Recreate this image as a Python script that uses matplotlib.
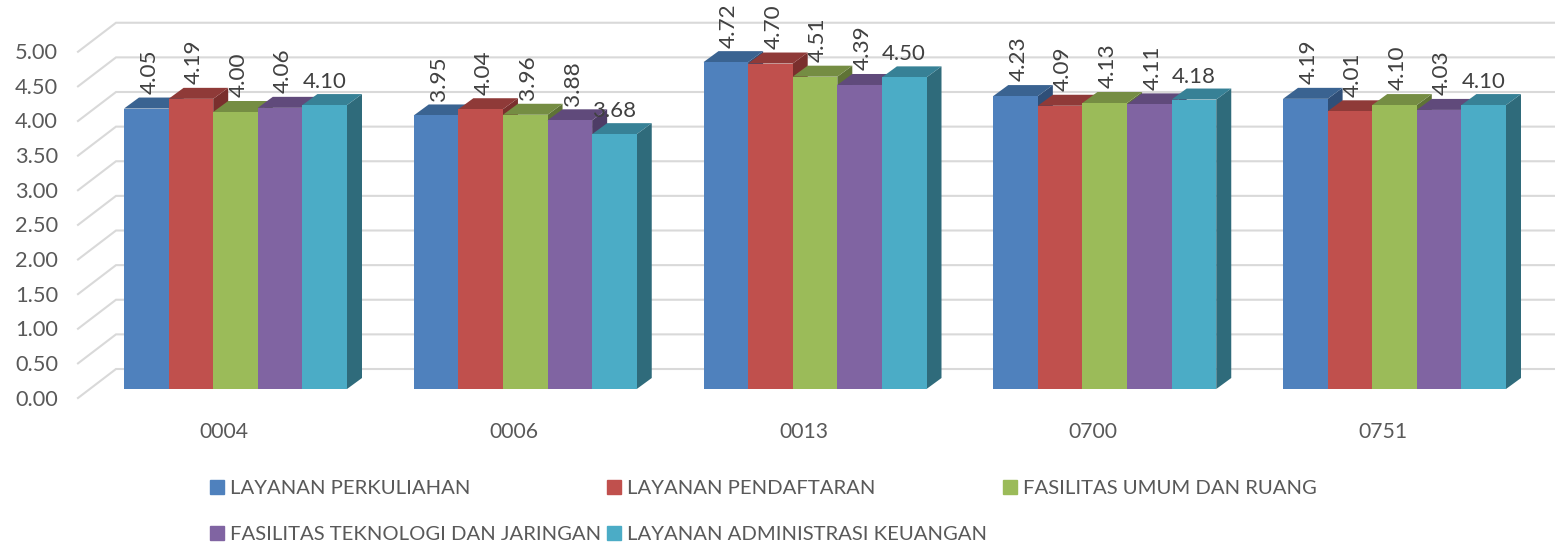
import matplotlib
matplotlib.use('Agg')
import matplotlib.pyplot as plt
from matplotlib.patches import Rectangle

plt.rcParams['font.family'] = ['Lato', 'DejaVu Sans']

categories = ['0004', '0006', '0013', '0700', '0751']
series_names = ['LAYANAN PERKULIAHAN', 'LAYANAN PENDAFTARAN', 'FASILITAS UMUM DAN RUANG',
                'FASILITAS TEKNOLOGI DAN JARINGAN', 'LAYANAN ADMINISTRASI KEUANGAN']
perkuliahan = [4.05, 3.95, 4.72, 4.23, 4.19]
pendaftaran = [4.19, 4.04, 4.70, 4.09, 4.01]
fasilitas_umum = [4.00, 3.96, 4.51, 4.13, 4.10]
fasilitas_tekno = [4.06, 3.88, 4.39, 4.11, 4.03]
administrasi = [4.10, 3.68, 4.50, 4.18, 4.10]
y_ticks = [0, 0.5, 1, 1.5, 2, 2.5, 3, 3.5, 4, 4.5, 5]

front = ['#4F81BD', '#C0504D', '#9BBB59', '#8064A2', '#4BACC6']
top = ['#3A6391', '#8F3A38', '#758D43', '#604A7B', '#378196']
side = ['#2F4F78', '#7A2F2D', '#5F7336', '#4E3C66', '#2F6B7B']
text_col = '#595959'
label_col = '#404040'
grid_col = '#D9D9D9'

W, H = 1555, 544
px_x = 289.75      # pixels per category
px_y = 69.25       # pixels per value unit
x0 = 235.5         # pixel of first group centre
y0 = 389           # pixel of value 0 (front)

fig = plt.figure(figsize=(W / 100, H / 100), dpi=100)
ax = fig.add_axes([0, 0, 1, 1])
ax.set_xlim(-x0 / px_x, (W - x0) / px_x)
ax.set_ylim((y0 - H) / px_y, y0 / px_y)
ax.axis('off')

bw = 44.6 / px_x
dx = 15 / px_x
dy = 11 / px_y

# back wall and left wall
wall_l = (78 - x0) / px_x
wall_r = (116 - x0) / px_x
for v in y_ticks:
    yb = v + 20 / px_y
    yf = v - 9 / px_y
    ax.plot([wall_l, wall_r, ax.get_xlim()[1]], [yf, yb, yb], color=grid_col, lw=1.5,
            solid_joinstyle='miter', zorder=1)
    ax.text((58 - x0) / px_x, yf - 1.5 / px_y, '%.2f' % v, ha='right', va='center',
            fontsize=15.7, color=text_col, zorder=10)

all_series = [perkuliahan, pendaftaran, fasilitas_umum, fasilitas_tekno, administrasi]
z = 2
for c in range(len(categories)):
    for s, vals in enumerate(all_series):
        v = vals[c]
        l = c + (s - 2.5) * bw
        r = l + bw
        ax.fill([r, r + dx, r + dx, r], [0, dy, v + dy, v], color=side[s], lw=0, zorder=z)
        ax.fill([l, l + dx, r + dx, r], [v, v + dy, v + dy, v], color=top[s], lw=0, zorder=z)
        ax.fill([l, r, r, l], [0, 0, v, v], color=front[s], lw=0, zorder=z)
        z += 1
        if s == 4:
            ax.annotate('%.2f' % v, (l + bw / 2, v), xytext=(0, 16.5), textcoords='offset points',
                        ha='center', va='center', fontsize=16, color=label_col, zorder=100)
        else:
            ax.annotate('%.2f' % v, (l + bw / 2, v), xytext=(2.2, 10.5), textcoords='offset points',
                        ha='center', va='bottom', rotation=90, fontsize=16.2, color=label_col, zorder=100)
    ax.text(c - 11.5 / px_x, (y0 - 431.5) / px_y, categories[c], ha='center', va='center',
            fontsize=15.2, color=text_col, zorder=10)

# legend placed by hand, two rows of three columns
leg_x = [210, 607, 1003, 210, 607]
leg_y = [487, 487, 487, 533, 533]
for name, col, lx, ly in zip(series_names, front, leg_x, leg_y):
    fig.patches.append(Rectangle((lx / W, 1 - (ly + 7) / H), 14 / W, 14 / H, color=col,
                                 transform=fig.transFigure, figure=fig))
    fig.text((lx + 20) / W, 1 - (ly + 1.5) / H, name, ha='left', va='center', fontsize=14.6, color=text_col)

fig.savefig('out.png', dpi=100)
